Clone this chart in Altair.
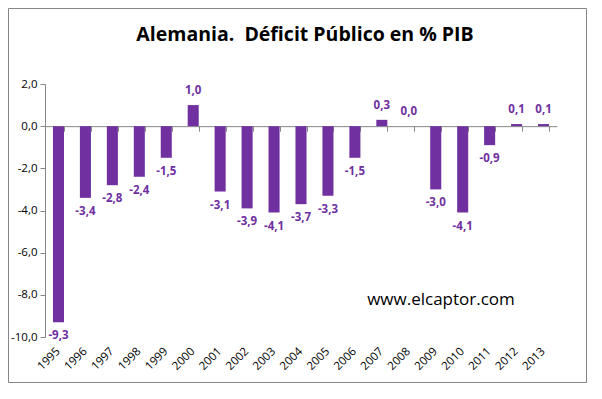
import altair as alt
import pandas as pd

years = [str(y) for y in range(1995, 2014)]
values = [-9.3, -3.4, -2.8, -2.4, -1.5, 1.0, -3.1, -3.9, -4.1, -3.7, -3.3, -1.5, 0.3, 0.0, -3.0, -4.1, -0.9, 0.1, 0.1]
y_ticks = [-10, -8, -6, -4, -2, 0, 2]
title_text = "Alemania.\u00a0 Déficit Público en % PIB"
watermark = "www.elcaptor.com"

df = pd.DataFrame({"year": years, "value": values})

W, H = 512, 253
PL, PT, PR, PB = 37, 76, 30, 46
FONT = "Open Sans"
PURPLE = "#7030A0"
GRAY = "#868686"
YMIN, YMAX = -10, 2
zero_offset = -(H * (0 - YMIN) / (YMAX - YMIN))
FMT = "(datum.value < 0 ? '-' : '') + replace(format(abs(datum.value), '.1f'), '.', ',')"

xscale = alt.Scale(paddingInner=0.59, paddingOuter=0.295)
yscale = alt.Scale(domain=[YMIN, YMAX], nice=False, zero=False)

base = alt.Chart(df)

bars = base.mark_bar(color=PURPLE).encode(
    x=alt.X("year:N", scale=xscale, sort=years,
            axis=alt.Axis(orient="bottom", offset=zero_offset, labels=False, title=None,
                          domainColor=GRAY, tickColor=GRAY, tickSize=5, tickBand="extent",
                          grid=False)),
    y=alt.Y("value:Q", scale=yscale,
            axis=alt.Axis(values=y_ticks, title=None, grid=False, domainColor=GRAY,
                          tickColor=GRAY, tickSize=5, labelFont=FONT, labelFontSize=11.5,
                          labelColor="#000000", labelPadding=3,
                          labelExpr=FMT)),
    y2=alt.datum(0),
)

lbl = base.transform_calculate(lab=FMT)

neg_labels = lbl.transform_filter("datum.value < 0").mark_text(
    font=FONT, fontSize=11.5, fontWeight="bold", color=PURPLE, baseline="middle", dy=14
).encode(x=alt.X("year:N", sort=years), y="value:Q", text="lab:N")

pos_labels = lbl.transform_filter("datum.value >= 0").mark_text(
    font=FONT, fontSize=11.5, fontWeight="bold", color=PURPLE, baseline="middle", dy=-14
).encode(x=alt.X("year:N", sort=years), y="value:Q", text="lab:N")

xlabels = base.mark_text(
    font=FONT, fontSize=11.5, color="#000000", angle=315, align="right",
    baseline="middle", dx=0, dy=0
).encode(x=alt.X("year:N", sort=years), y=alt.value(H + 13), text="year:N")

title_df = pd.DataFrame({"t": [title_text]})
title = alt.Chart(title_df).mark_text(
    font=FONT, fontSize=19.5, fontWeight="bold", color="#000000", baseline="middle"
).encode(x=alt.value(W / 2 + 4), y=alt.value(-49), text="t:N")

wm_df = pd.DataFrame({"t": [watermark]})
wm = alt.Chart(wm_df).mark_text(
    font=FONT, fontSize=17, color="#000000", baseline="middle", align="center"
).encode(x=alt.value(396), y=alt.value(216), text="t:N")

border = alt.Chart(title_df).mark_rect(fill=None, stroke=GRAY, strokeWidth=1).encode(
    x=alt.value(-PL + 0.5), x2=alt.value(W + PR - 0.5),
    y=alt.value(-PT + 0.5), y2=alt.value(H + PB - 0.5)
)

chart = alt.layer(bars, neg_labels, pos_labels, xlabels, title, wm, border).properties(
    width=W, height=H,
    autosize=alt.AutoSizeParams(type="none"),
    padding={"left": PL, "top": PT, "right": PR, "bottom": PB},
    background="white",
).configure_view(stroke=None)

chart.save("out.html", embed_options={"renderer": "svg", "actions": False})
